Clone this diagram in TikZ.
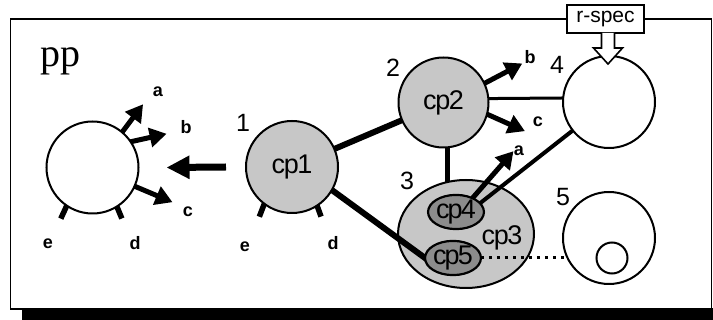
\documentclass[tikz,border=0pt]{standalone}
\usepackage{fontspec}
\setmainfont{Liberation Sans}
\newfontfamily\seriffont{Liberation Serif}
\usetikzlibrary{arrows.meta,shapes.geometric,calc}
\pgfdeclarelayer{lzero}\pgfdeclarelayer{lone}\pgfdeclarelayer{ltwo}
\pgfsetlayers{lzero,lone,ltwo,main}
\begin{document}
\begin{tikzpicture}[x=1pt,y=-1pt,
 every node/.style={inner sep=0pt, outer sep=0pt},
 circ/.style={circle, draw, line width=2pt, minimum size=92pt, fill=white},
 cpc/.style={circ, fill=black!22},
 innerell/.style={ellipse, draw, line width=2.2pt, fill=black!45, minimum width=55pt, minimum height=30pt},
 num/.style={font=\fontsize{25}{25}\selectfont},
 lbl/.style={font=\bfseries\fontsize{18}{18}\selectfont},
 cplbl/.style={font=\fontsize{27}{27}\selectfont},
 fat/.style={line width=5pt, -{Triangle[length=17pt,width=19pt]}},
 stub/.style={line width=5.5pt},
 link/.style={line width=6pt},
]
\useasboundingbox (0,0) rectangle (713,320);
% frame
\draw[line width=1.6pt] (10.5,19) rectangle (711.5,309);
\fill (22,308) rectangle (713,320);
\node[anchor=base west, font=\seriffont\fontsize{40}{40}\selectfont] (title) at (40,67) {pp};

% nodes
\node[circ] (pp) at (92.5,167.5) {};
\node[cpc, cplbl] (cp1) at (292,167) {c\kern-1.5pt p\kern-1.5pt 1};
\node[cpc, cplbl, minimum size=90pt] (cp2) at (443.5,102.5) {c\kern-1.5pt p\kern-1.5pt 2};
\node[circ] (c4) at (609,102) {};
\node[circ] (c5) at (609,238) {};
\node[circle, draw, line width=2pt, fill=white, minimum size=31pt] (s5) at (612,258) {};
\node[innerell, cplbl] (cp4) at (456,212) {c\kern-2pt p\kern-2pt 4};
\node[innerell, cplbl] (cp5) at (453,258) {c\kern-2pt p\kern-2pt 5};
\begin{pgfonlayer}{lone}
\node[ellipse, draw, line width=2pt, fill=black!22, minimum width=136pt, minimum height=108pt] (cp3) at (466,234) {};
\end{pgfonlayer}
\node[cplbl] (cp3lbl) at (502,238) {c\kern-1.5pt p\kern-1.5pt 3};

% links under cp3
\begin{pgfonlayer}{lzero}
\draw[link] (cp1) -- (cp2);
\draw[line width=5pt] (cp2.-85) -- (cp2.-85 |- cp3.center);
\draw[line width=3pt] (cp2.5) -- (c4.175);
\end{pgfonlayer}
% links over cp3
\begin{pgfonlayer}{ltwo}
\draw[link, shorten >=-6pt] (cp1.-30) -- (cp5.west);
\draw[line width=4pt, shorten <=-4pt] (cp4.20) -- (c4);
\draw[line width=3pt, dash pattern=on 3pt off 5pt] (cp5.east) -- (s5.west);
\end{pgfonlayer}

% pp ports
\draw[fat] (pp.50) -- ++(21,-28);
\draw[fat] (pp.34) -- ++(36,-8);
\draw[fat] (pp.-24) -- ++(38,16);
\draw[stub] (pp.-124) -- ++(-6,13);
\draw[stub] (pp.-58) -- ++(5,12);
\coordinate (fromcp1) at (226,167);
\draw[line width=7pt, -{Triangle[length=23pt,width=22pt]}] (fromcp1) -- ($(pp.east)+(28,0)$);
% cp1 ports
\draw[stub] (cp1.-127) -- ++(-5,13);
\draw[stub] (cp1.-57) -- ++(4,11);
% cp2 ports
\draw[fat] (cp2.25) -- ++(38,-20);
\draw[fat] (cp2.-15) -- ++(38,17);
% cp4 port
\draw[fat] (cp4.40) -- ++(41,-47);

% labels
\node[lbl] (la) at (158,92) {a};
\node[lbl] (lb) at (186,127) {b};
\node[lbl] (lc) at (188,212) {c};
\node[lbl] (le) at (48,244) {e};
\node[lbl] (ld) at (135,243) {d};
\node[lbl] (le1) at (245,247) {e};
\node[lbl] (ld1) at (333,243) {d};
\node[lbl] (lb2) at (530,57) {b};
\node[lbl] (lc2) at (538,122) {c};
\node[lbl] (la4) at (519,151) {a};
\node[num] (n1) at (243,123) {1};
\node[num] (n2) at (393,68) {2};
\node[num] (n3) at (407,181) {3};
\node[num] (n4) at (557,65) {4};
\node[num] (n5) at (563,197) {5};

% r-spec
\node[draw, fill=white, line width=1.6pt, minimum width=77pt, minimum height=28pt, font=\fontsize{21}{21}\selectfont] (rspec) at (605.5,19) {r-spec};
\draw[line width=1.6pt, fill=white, line join=miter] (rspec.south) ++(-4,0) -- ++(0,15) -- ++(-8,0) -- ++(14.5,16) -- ++(14.5,-16) -- ++(-8,0) -- ++(0,-15);
\end{tikzpicture}
\end{document}
